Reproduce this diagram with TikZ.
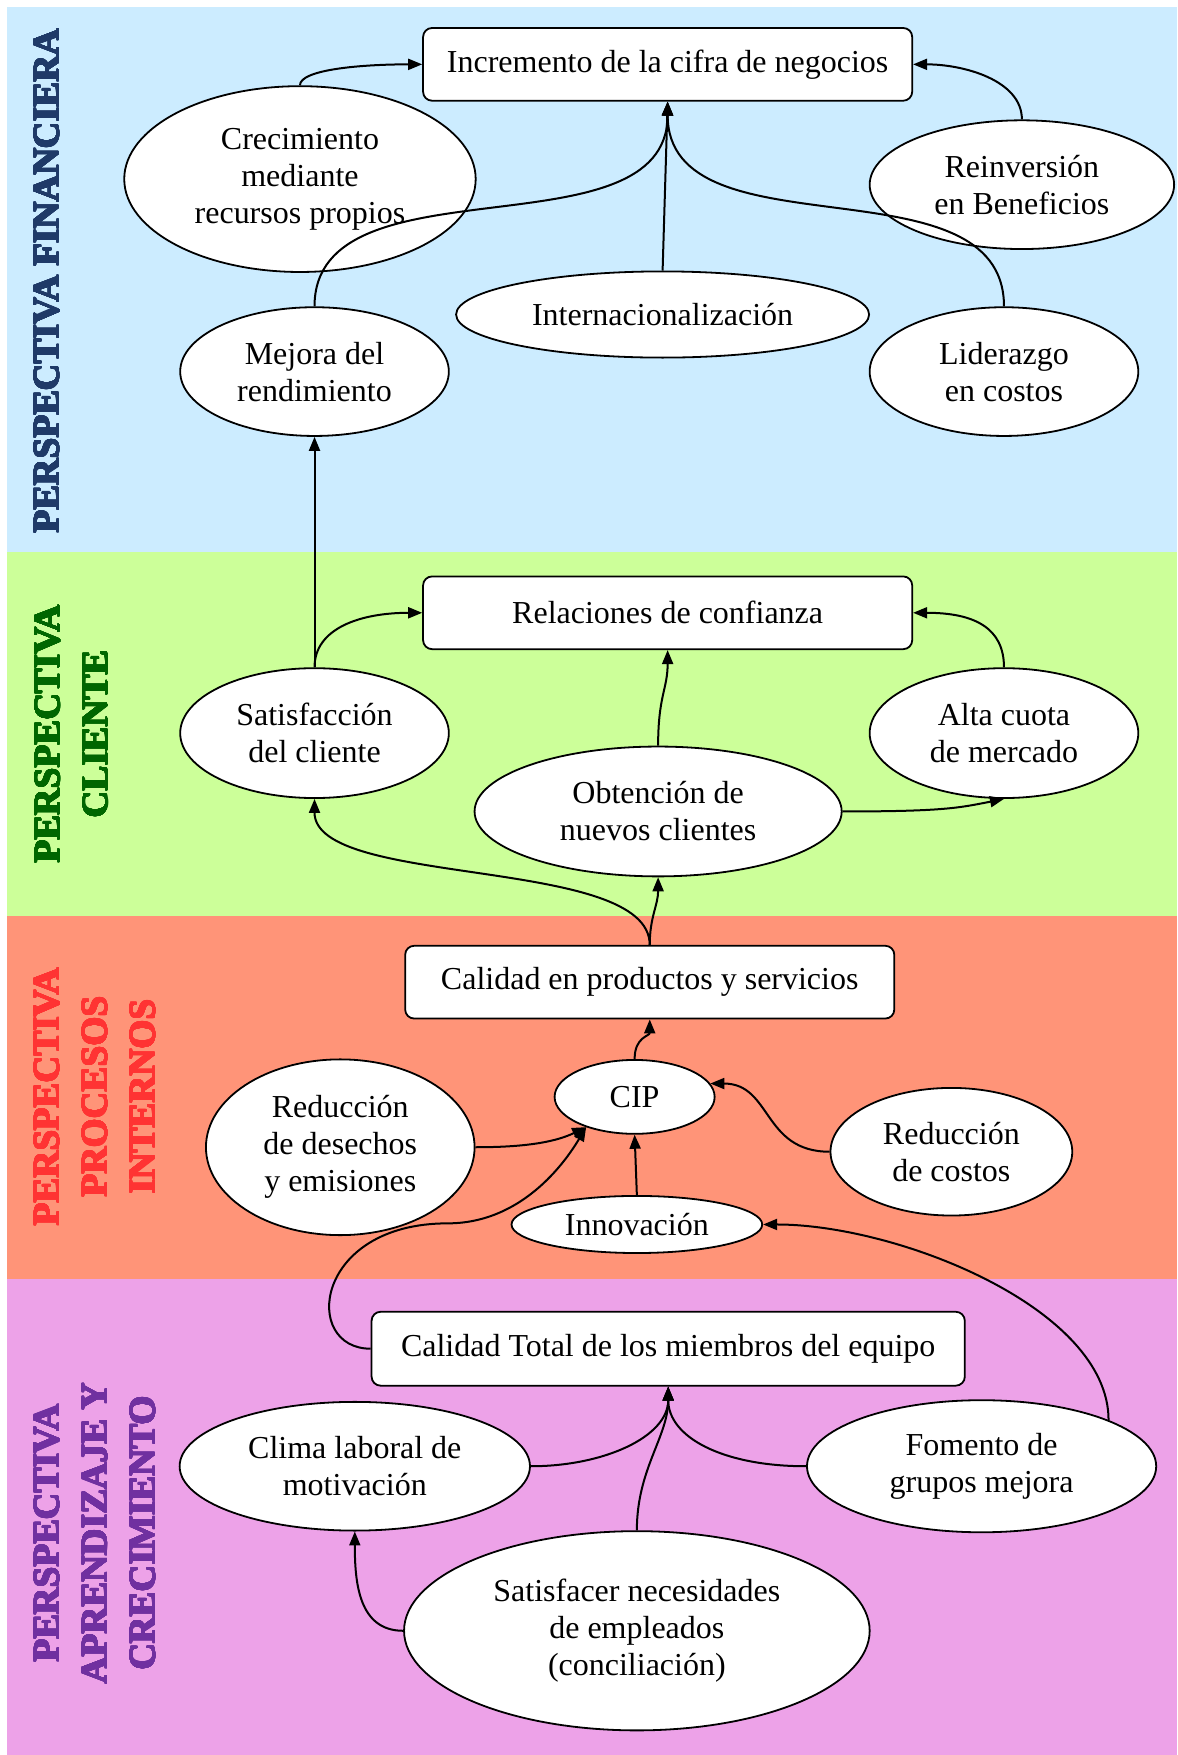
\documentclass[tikz,border=0pt]{standalone}
\usepackage{fontspec}
\usepackage{contour}
\setmainfont{Liberation Serif}
\contourlength{0.25pt}
\contournumber{24}
\usetikzlibrary{shapes.geometric,arrows.meta}

\definecolor{bandfin}{HTML}{CCECFF}
\definecolor{bandcli}{HTML}{CCFF99}
\definecolor{bandpro}{HTML}{FF9478}
\definecolor{bandapr}{HTML}{EDA2E8}
\definecolor{txtfin}{HTML}{1F3A68}
\definecolor{txtcli}{HTML}{006600}
\definecolor{txtpro}{HTML}{FF3333}
\definecolor{txtapr}{HTML}{7030A0}

% heavy title lines for the perspective bands
\newcommand\heavy[2]{\contour{#1}{#2}}

\begin{document}
\begin{tikzpicture}[x=0.5599pt,y=-0.5599pt,
  every node/.style={font=\fontsize{16}{18.5}\selectfont, align=center, inner sep=0pt},
  goalbox/.style n args={2}{draw=black, line width=0.9pt, fill=white, rounded corners=4.5pt,
    minimum width=#1*0.5599pt, minimum height=#2*0.5599pt},
  oval/.style n args={2}{ellipse, draw=black, line width=0.9pt, fill=white,
    minimum width=#1*0.5599pt, minimum height=#2*0.5599pt},
  lab/.style={rotate=90, font=\bfseries\fontsize{18.6}{24}\selectfont},
  arr/.style={line width=1pt, -{Triangle[length=7pt,width=5.5pt]}}]

\useasboundingbox (0,0) rectangle (1052,1568);

% perspective bands
\fill[bandfin] (6,6) rectangle (1052,493);
\fill[bandcli] (6,493) rectangle (1052,818);
\fill[bandpro] (6,818) rectangle (1052,1143);
\fill[bandapr] (6,1143) rectangle (1052,1568);

% band titles
\node[lab, text=txtfin] (lfin) at (42,251) {\heavy{txtfin}{PERSPECTIVA FINANCIERA}};
\node[lab, text=txtcli] (lcli) at (64,656) {\heavy{txtcli}{PERSPECTIVA}\\\heavy{txtcli}{CLIENTE}};
\node[lab, text=txtpro] (lpro) at (85,980) {\heavy{txtpro}{PERSPECTIVA}\\\heavy{txtpro}{PROCESOS}\\\heavy{txtpro}{INTERNOS}};
\node[lab, text=txtapr] (lapr) at (85,1370) {\heavy{txtapr}{PERSPECTIVA}\\\heavy{txtapr}{APRENDIZAJE Y}\\\heavy{txtapr}{CRECIMIENTO}};

% financial perspective
\node[goalbox={437}{65}] (incr) at (596.5,57.5) {Incremento de la cifra de negocios};
\node[oval={314}{166}] (crec) at (268,160) {Crecimiento\\mediante\\recursos propios};
\node[oval={272}{115}] (reinv) at (913,165) {Reinversión\\en Beneficios};
\node[oval={369}{77}] (intern) at (592,281) {Internacionalización};
\node[oval={240}{115}] (mejora) at (281,332) {Mejora del\\rendimiento};
\node[oval={240}{115}] (lider) at (897,332) {Liderazgo\\en costos};

% customer perspective
\node[goalbox={437}{65}] (relac) at (596.5,547.5) {Relaciones de confianza};
\node[oval={240}{116}] (satisf) at (281,655) {Satisfacción\\del cliente};
\node[oval={240}{116}] (alta) at (897,655) {Alta cuota\\de mercado};
\node[oval={328}{116}] (obt) at (588,725) {Obtención de\\nuevos clientes};

% internal processes perspective
\node[goalbox={437}{65}] (calid) at (580.5,877.5) {Calidad en productos y servicios};
\node[oval={143}{66}] (cip) at (567,980) {CIP};
\node[oval={240}{157}] (reddes) at (304,1025) {Reducción\\de desechos\\y emisiones};
\node[oval={216}{114}] (redcost) at (850,1029) {Reducción\\de costos};
\node[oval={224}{51}] (innov) at (569,1094) {Innovación};

% learning and growth perspective
\node[goalbox={530}{66}] (caltot) at (597,1205) {Calidad Total de los miembros del equipo};
\node[oval={313}{115}] (clima) at (317,1310) {Clima laboral de\\motivación};
\node[oval={312}{118}] (fomento) at (877,1310) {Fomento de\\grupos mejora};
\node[oval={416}{178}] (satemp) at (569,1457) {Satisfacer necesidades\\de empleados\\(conciliación)};

% links, financial
\draw[arr] (crec.north) .. controls +(0,-14) and +(-55,0) .. (incr.west);
\draw[arr] (reinv.north) .. controls +(0,-35) and +(45,0) .. (incr.east);
\draw[arr] (mejora.north) .. controls +(0,-135) and +(0,140) .. (incr.south);
\draw[arr] (intern.north) -- (incr.south);
\draw[arr] (lider.north) .. controls +(0,-135) and +(0,140) .. (incr.south);
\draw[arr] (satisf.north) -- (mejora.south);

% links, customer
\draw[arr] (satisf.north) .. controls +(0,-35) and +(-55,0) .. (relac.west);
\draw[arr] (alta.north) .. controls +(0,-35) and +(55,0) .. (relac.east);
\draw[arr] (obt.north) .. controls +(0,-45) and +(0,35) .. (relac.south);
\draw[arr] (obt.east) .. controls +(90,0) and +(-40,8) .. (alta.south);
\draw[arr] (calid.north) .. controls +(0,-25) and +(0,25) .. (obt.south);
\draw[arr] (calid.north) .. controls +(0,-80) and +(0,80) .. (satisf.south);

% links, internal processes
\draw[arr] (cip.north) .. controls +(0,-20) and +(0,15) .. (calid.south);
\draw[arr] (reddes.east) .. controls +(50,0) and +(-25,12) .. (cip.212);
\coordinate (bend) at (400,1093);
\draw[arr] (caltot.west) .. controls +(-62,0) and +(-120,0) .. (bend)
  .. controls +(70,0) and +(-15,25) .. (cip.212);
\draw[arr] (redcost.west) .. controls +(-60,0) and +(55,0) .. (cip.10);
\draw[arr] (innov.north) -- (cip.south);
\draw[arr] (fomento.20) .. controls +(0,-100) and +(120,0) .. (innov.east);

% links, learning and growth
\draw[arr] (clima.east) .. controls +(65,0) and +(0,45) .. (caltot.south);
\draw[arr] (satemp.north) .. controls +(0,-55) and +(0,45) .. (caltot.south);
\draw[arr] (fomento.west) .. controls +(-75,0) and +(0,45) .. (caltot.south);
\draw[arr] (satemp.west) .. controls +(-40,0) and +(0,45) .. (clima.south);

\end{tikzpicture}
\end{document}
